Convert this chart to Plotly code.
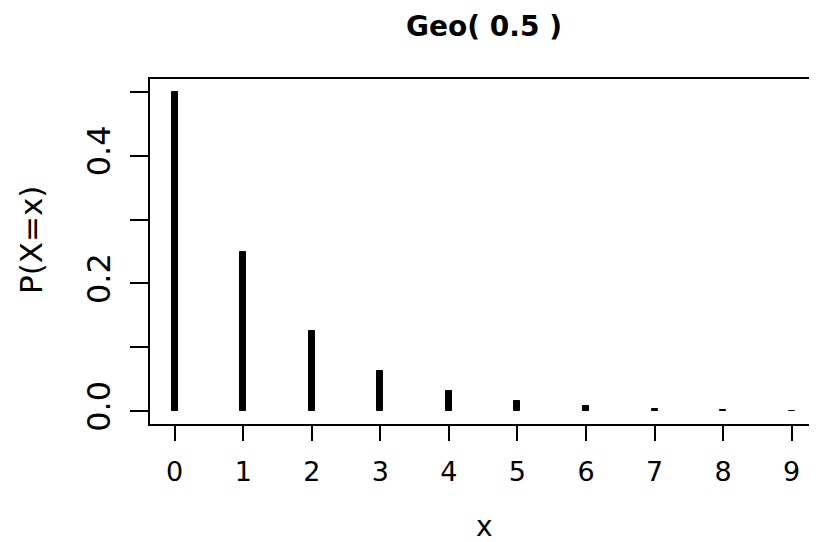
import plotly.graph_objects as go

x_vals = [0, 1, 2, 3, 4, 5, 6, 7, 8, 9]
p_vals = [0.5, 0.25, 0.125, 0.0625, 0.03125, 0.015625, 0.0078125,
          0.00390625, 0.001953125, 0.0009765625]
x_tick_vals = [0, 1, 2, 3, 4, 5, 6, 7, 8, 9]
x_tick_text = ["0", "1", "2", "3", "4", "5", "6", "7", "8", "9"]
y_tick_vals = [0.0, 0.1, 0.2, 0.3, 0.4, 0.5]
y_tick_text = ["0.0", "", "0.2", "", "0.4", ""]

FONT = "DejaVu Sans, Liberation Sans, Arial, sans-serif"
# page body has an 8px margin; figure offset by it
W, H = 801, 534
L, T, B, R = 142, 71, 118, 0
PW, PH = W - L - R, H - T - B


def px(page_x):
    return (page_x - 8 - L) / PW


def py(page_y):
    return 1 - (page_y - 8 - T) / PH


fig = go.Figure()
fig.add_trace(go.Bar(
    x=x_vals, y=p_vals, width=0.088, base=0,
    marker=dict(color="black", line=dict(width=1, color="black")),
    showlegend=False,
))

fig.update_layout(
    width=W, height=H,
    margin=dict(l=L, r=R, t=T, b=B, autoexpand=False),
    paper_bgcolor="white", plot_bgcolor="white",
    font=dict(family=FONT, size=27, color="black"),
    title=dict(text="<b>Geo( 0.5 )</b>", x=(484 - 8) / W, xanchor="center",
               y=1 - (26 - 8) / H, yanchor="middle",
               font=dict(family=FONT, size=28, color="black")),
    bargap=0,
    annotations=[
        dict(text="x", x=px(484), y=py(526), xref="paper", yref="paper",
             xanchor="center", yanchor="middle", showarrow=False,
             font=dict(family=FONT, size=28, color="black")),
        dict(text="P(X=x)", x=px(31), y=py(240), xref="paper", yref="paper",
             xanchor="center", yanchor="middle", showarrow=False, textangle=-90,
             font=dict(family=FONT, size=31, color="black")),
    ],
)
fig.update_xaxes(
    range=[-0.36, -0.36 + PW / 68.55], tickvals=x_tick_vals, ticktext=x_tick_text,
    showgrid=False, zeroline=False, automargin=False,
    showline=True, linecolor="black", linewidth=1.6, mirror=True,
    ticks="outside", ticklen=15, tickwidth=1.5, tickcolor="black",
    tickfont=dict(size=27), ticklabelstandoff=8,
)
fig.update_yaxes(
    range=[-0.02, 0.52], tickvals=y_tick_vals, ticktext=y_tick_text,
    showgrid=False, zeroline=False, automargin=False,
    showline=True, linecolor="black", linewidth=1.6, mirror=False,
    ticks="outside", ticklen=18, tickwidth=1.5, tickcolor="black",
    tickangle=-90, tickfont=dict(size=32), ticklabelstandoff=7,
)

fig.write_html("out.html")
